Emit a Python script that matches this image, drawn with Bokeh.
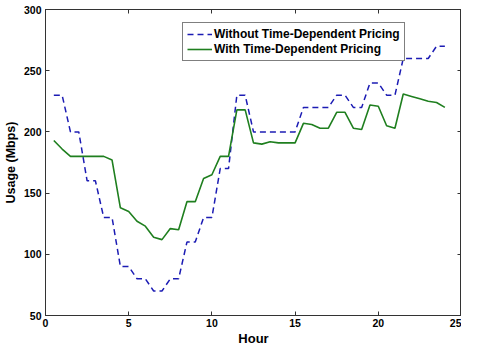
from bokeh.plotting import figure
from bokeh.models import Range1d, LinearAxis, FixedTicker, Legend, LegendItem
from bokeh.embed import file_html
from bokeh.resources import INLINE

hours = [0.5, 1.0, 1.5, 2.0, 2.5, 3.0, 3.5, 4.0, 4.5, 5.0, 5.5, 6.0,
         6.5, 7.0, 7.5, 8.0, 8.5, 9.0, 9.5, 10.0, 10.5, 11.0, 11.5, 12.0,
         12.5, 13.0, 13.5, 14.0, 14.5, 15.0, 15.5, 16.0, 16.5, 17.0, 17.5, 18.0,
         18.5, 19.0, 19.5, 20.0, 20.5, 21.0, 21.5, 22.0, 22.5, 23.0, 23.5, 24.0]
without_tdp = [230, 230, 200, 200, 160, 160, 130, 130, 90, 90, 80, 80,
               70, 70, 80, 80, 110, 110, 130, 130, 170, 170, 230, 230,
               200, 200, 200, 200, 200, 200, 220, 220, 220, 220, 230, 230,
               220, 220, 240, 240, 230, 230, 260, 260, 260, 260, 270, 270]
with_tdp = [193, 186, 180, 180, 180, 180, 180, 177, 138, 135, 127, 123,
            114, 112, 121, 120, 143, 143, 162, 165, 180, 180, 218, 218,
            191, 190, 192, 191, 191, 191, 207, 206, 203, 203, 216, 216,
            203, 202, 222, 221, 205, 203, 231, 229, 227, 225, 224, 220]
x_ticks = [0, 5, 10, 15, 20, 25]
y_ticks = [50, 100, 150, 200, 250, 300]
series_names = ["Without Time-Dependent Pricing", "With Time-Dependent Pricing"]

FONT = "Liberation Sans"
AX = "#333333"

p = figure(width=461, height=348, output_backend="svg", toolbar_location=None,
           x_range=Range1d(0, 25), y_range=Range1d(50, 300),
           min_border_left=42, min_border_right=0, min_border_top=9, min_border_bottom=31,
           background_fill_color="white", border_fill_color="white")
p.xgrid.visible = False
p.ygrid.visible = False
p.outline_line_color = AX
p.outline_line_width = 1

for ax, ticks in ((p.xaxis[0], x_ticks), (p.yaxis[0], y_ticks)):
    ax.ticker = FixedTicker(ticks=ticks)
    ax.minor_tick_line_color = None
    ax.major_tick_in = 4
    ax.major_tick_out = 0
    ax.axis_line_color = AX
    ax.major_tick_line_color = AX
    ax.major_label_text_font = FONT
    ax.major_label_text_font_style = "bold"
    ax.major_label_text_font_size = "10.5px"
    ax.major_label_text_color = "black"
    ax.axis_label_text_font = FONT
    ax.axis_label_text_font_style = "bold"
    ax.axis_label_text_color = "black"

p.xaxis[0].axis_label = "Hour"
p.xaxis[0].axis_label_text_font_size = "13px"
p.xaxis[0].major_label_standoff = 3
p.xaxis[0].axis_label_standoff = 1
p.yaxis[0].axis_label = "Usage (Mbps)"
p.yaxis[0].axis_label_text_font_size = "12.5px"
p.yaxis[0].major_label_standoff = 4
p.yaxis[0].axis_label_standoff = 3


def frame_axis(ticks):
    return LinearAxis(ticker=FixedTicker(ticks=ticks),
                      major_label_overrides={t: "" for t in ticks},
                      major_label_text_color=None,
                      major_tick_in=4, major_tick_out=0, minor_tick_line_color=None,
                      axis_line_color=AX, major_tick_line_color=AX, major_label_standoff=0)


p.add_layout(frame_axis(x_ticks), "above")
p.add_layout(frame_axis(y_ticks), "right")

r1 = p.line(hours, without_tdp, line_color="#1c1cb4", line_width=1.5, line_dash="6 4")
r2 = p.line(hours, with_tdp, line_color="#1f7f1f", line_width=1.6)

legend = Legend(items=[LegendItem(label=series_names[0], renderers=[r1]),
                       LegendItem(label=series_names[1], renderers=[r2])],
                location=(137, 254), margin=0, padding=4, spacing=1,
                label_height=12, glyph_height=12, glyph_width=25, label_standoff=2,
                label_text_font=FONT, label_text_font_style="bold", label_text_font_size="12px",
                label_text_color="black", border_line_color="black", border_line_width=1,
                background_fill_color="white", background_fill_alpha=1)
p.add_layout(legend, "center")

open("out.html", "w").write(file_html(p, INLINE))
